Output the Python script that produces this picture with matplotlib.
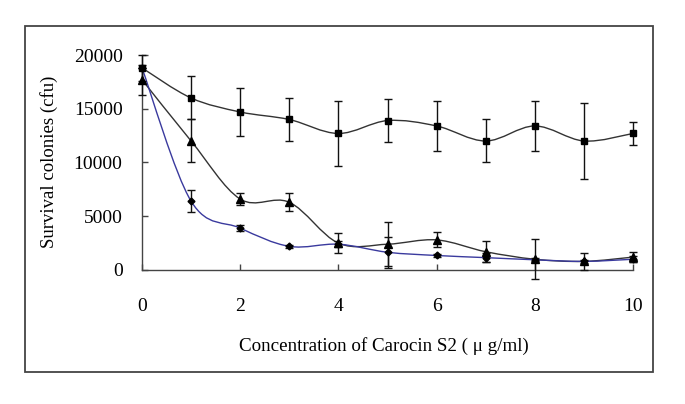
import matplotlib
matplotlib.use("Agg")
import matplotlib.pyplot as plt
from matplotlib.path import Path
from matplotlib.patches import PathPatch, Rectangle
import numpy as np

# concentration of Carocin S2 (ug/ml)
conc = [0, 1, 2, 3, 4, 5, 6, 7, 8, 9, 10]

# square series
sq_y = [18800, 16000, 14700, 14000, 12700, 13900, 13400, 12000, 13400, 12000, 12700]
sq_err = [1200, 2000, 2250, 2000, 3000, 2000, 2300, 2000, 2300, 3500, 1100]

# triangle series
tri_y = [17700, 12000, 6600, 6300, 2500, 2400, 2800, 1700, 1000, 800, 1200]
tri_err = [1400, 2000, 550, 850, 900, 2050, 700, 1000, 1850, 800, 500]

# diamond series (blue line)
dia_y = [18800, 6400, 3900, 2200, 2400, 1650, 1350, 1150, 950, 800, 1000]
dia_err = [0, 1050, 250, 150, 300, 1450, 150, 400, 150, 150, 300]


def smooth_path(xs, ys):
    # catmull-rom style bezier through the points, like excel "smoothed line"
    pts = np.column_stack([xs, ys]).astype(float)
    verts = [pts[0]]
    codes = [Path.MOVETO]
    n = len(pts)
    for i in range(n - 1):
        p0 = pts[i - 1] if i > 0 else pts[i]
        p1 = pts[i]
        p2 = pts[i + 1]
        p3 = pts[i + 2] if i + 2 < n else pts[i + 1]
        c1 = p1 + (p2 - p0) / 6.0
        c2 = p2 - (p3 - p1) / 6.0
        verts += [c1, c2, p2]
        codes += [Path.CURVE4] * 3
    return Path(verts, codes)


plt.rcParams['font.family'] = ['Liberation Serif', 'DejaVu Serif']

fig = plt.figure(figsize=(6.85, 4.04), dpi=100)
ax = fig.add_axes([142 / 685, 1 - 270 / 404, 491 / 685, 215 / 404])

line_col = '#333333'
blue_col = '#3a3a9e'

for ys, col in [(sq_y, line_col), (tri_y, line_col), (dia_y, blue_col)]:
    ax.add_patch(PathPatch(smooth_path(conc, ys), facecolor='none',
                           edgecolor=col, lw=1.0, zorder=2, clip_on=False))

for ys, err in [(sq_y, sq_err), (tri_y, tri_err), (dia_y, dia_err)]:
    ax.errorbar(conc, ys, yerr=err, fmt='none', ecolor='#111111',
                elinewidth=1.0, capsize=2.8, capthick=1.0, zorder=3, clip_on=False)

ax.plot(conc, sq_y, ls='none', marker='s', ms=5, color='black', zorder=4, clip_on=False)
ax.plot(conc, tri_y, ls='none', marker='^', ms=5.5, color='black', zorder=4, clip_on=False)
ax.plot(conc, dia_y, ls='none', marker='D', ms=3.5, color='black', zorder=4, clip_on=False)

ax.set_xlim(0, 10)
ax.set_ylim(0, 20000)
ax.set_xticks([0, 2, 4, 6, 8, 10])
ax.set_yticks([0, 5000, 10000, 15000, 20000])

for s in ['top', 'right']:
    ax.spines[s].set_visible(False)
for s in ['left', 'bottom']:
    ax.spines[s].set_color('#444444')
    ax.spines[s].set_linewidth(1.0)

ax.tick_params(axis='x', direction='in', length=4, width=1, color='#444444',
               pad=20, labelsize=14)
ax.tick_params(axis='y', direction='in', length=4, width=1, color='#444444',
               pad=14, labelsize=14)

ax.set_xlabel('Concentration of Carocin S2 ( \u03bc g/ml)', fontsize=13.7)
ax.xaxis.set_label_coords(0.493, -0.312)
ax.set_ylabel('Survival colonies (cfu)', fontsize=13.5)
ax.yaxis.set_label_coords(-0.171, 0.502)

# outer frame
fig.patches.append(Rectangle((25 / 685, 1 - 372 / 404), 628 / 685, 346 / 404,
                             transform=fig.transFigure, fill=False,
                             edgecolor='#444444', lw=1.3))

fig.savefig('out.png', dpi=100)
